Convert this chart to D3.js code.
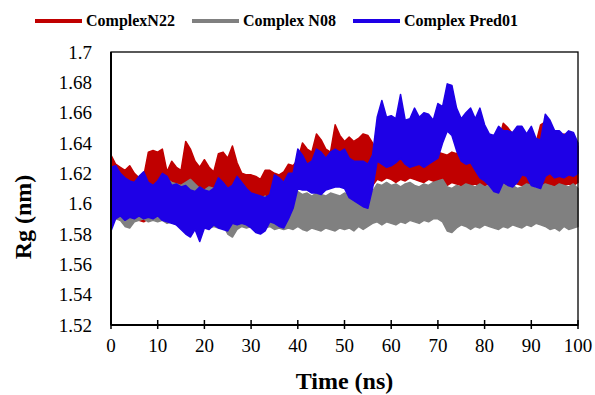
<!DOCTYPE html>
<html>
<head>
<meta charset="utf-8">
<script src="https://cdn.jsdelivr.net/npm/d3@7"></script>
<style>
  body { margin: 0; background: #fff; }
  svg { font-family: "Liberation Serif", "Times New Roman", serif; }
</style>
</head>
<body>
<svg id="chart" width="595" height="395"></svg>
<script>
// sampling: one high / one low reading per ns
var timeNs = d3.range(0, 101);

var xTicks = [0, 10, 20, 30, 40, 50, 60, 70, 80, 90, 100];
var yTicks = [1.52, 1.54, 1.56, 1.58, 1.6, 1.62, 1.64, 1.66, 1.68, 1.7];

var seriesNames = ["ComplexN22", "Complex N08", "Complex Pred01"];

// ComplexN22 (red)
var n22High = [1.632,1.626,1.624,1.622,1.625,1.620,1.617,1.618,1.634,1.635,
  1.634,1.636,1.621,1.628,1.624,1.622,1.641,1.636,1.628,1.624,
  1.629,1.624,1.621,1.633,1.634,1.630,1.638,1.627,1.620,1.619,
  1.619,1.618,1.616,1.622,1.622,1.620,1.619,1.621,1.626,1.625,
  1.629,1.640,1.636,1.634,1.646,1.642,1.636,1.634,1.652,1.645,
  1.641,1.644,1.641,1.643,1.646,1.645,1.640,1.634,1.632,1.635,
  1.633,1.634,1.636,1.632,1.633,1.635,1.632,1.634,1.633,1.631,
  1.634,1.633,1.632,1.634,1.633,1.636,1.638,1.640,1.646,1.638,
  1.642,1.637,1.639,1.641,1.653,1.650,1.646,1.640,1.642,1.639,
  1.641,1.640,1.652,1.654,1.648,1.642,1.640,1.646,1.641,1.640,1.638];
var n22Low = [1.594,1.592,1.589,1.590,1.591,1.590,1.589,1.588,1.590,1.598,
  1.600,1.599,1.601,1.600,1.602,1.600,1.601,1.603,1.600,1.601,
  1.602,1.600,1.601,1.603,1.600,1.602,1.601,1.603,1.600,1.601,
  1.602,1.600,1.601,1.603,1.602,1.601,1.603,1.602,1.604,1.606,
  1.612,1.613,1.612,1.614,1.613,1.612,1.614,1.613,1.612,1.613,
  1.612,1.611,1.610,1.611,1.610,1.611,1.612,1.616,1.615,1.617,
  1.616,1.614,1.616,1.615,1.617,1.616,1.615,1.614,1.616,1.615,
  1.614,1.613,1.612,1.614,1.613,1.612,1.611,1.612,1.613,1.611,
  1.612,1.613,1.612,1.611,1.613,1.612,1.614,1.613,1.612,1.611,
  1.613,1.612,1.611,1.612,1.613,1.611,1.610,1.612,1.613,1.612,1.614];

// Complex N08 (grey)
var n08High = [1.603,1.605,1.606,1.604,1.607,1.606,1.608,1.607,1.609,1.608,
  1.609,1.612,1.616,1.614,1.613,1.612,1.614,1.616,1.613,1.610,
  1.609,1.611,1.610,1.608,1.609,1.610,1.608,1.607,1.608,1.606,
  1.605,1.604,1.603,1.605,1.603,1.602,1.604,1.603,1.604,1.606,
  1.608,1.606,1.607,1.605,1.607,1.606,1.605,1.607,1.606,1.605,
  1.607,1.606,1.605,1.607,1.606,1.605,1.608,1.613,1.612,1.614,
  1.612,1.613,1.611,1.613,1.614,1.612,1.611,1.613,1.612,1.614,
  1.615,1.616,1.611,1.610,1.612,1.611,1.613,1.612,1.611,1.613,
  1.611,1.612,1.610,1.612,1.613,1.611,1.612,1.610,1.611,1.613,
  1.612,1.610,1.611,1.613,1.612,1.611,1.613,1.612,1.611,1.613,1.610];
var n08Low = [1.592,1.590,1.589,1.585,1.584,1.588,1.589,1.590,1.588,1.589,
  1.588,1.589,1.587,1.588,1.586,1.585,1.584,1.585,1.585,1.586,
  1.585,1.584,1.585,1.584,1.586,1.580,1.578,1.583,1.585,1.584,
  1.585,1.584,1.583,1.584,1.585,1.583,1.584,1.583,1.584,1.583,
  1.585,1.583,1.582,1.584,1.583,1.582,1.584,1.583,1.582,1.584,
  1.583,1.584,1.582,1.585,1.583,1.585,1.587,1.588,1.586,1.588,
  1.587,1.586,1.588,1.587,1.589,1.588,1.587,1.589,1.588,1.590,
  1.590,1.588,1.582,1.581,1.584,1.586,1.585,1.583,1.585,1.584,
  1.586,1.585,1.584,1.583,1.585,1.584,1.586,1.585,1.584,1.586,
  1.585,1.587,1.586,1.585,1.583,1.584,1.582,1.585,1.583,1.584,1.585];

// Complex Pred01 (blue)
var pred01High = [1.624,1.625,1.620,1.617,1.615,1.614,1.618,1.621,1.614,1.612,
  1.615,1.620,1.618,1.612,1.613,1.611,1.612,1.609,1.608,1.611,
  1.609,1.608,1.610,1.617,1.614,1.610,1.612,1.618,1.614,1.610,
  1.607,1.606,1.605,1.604,1.606,1.619,1.617,1.614,1.620,1.620,
  1.636,1.632,1.626,1.628,1.636,1.634,1.630,1.634,1.636,1.634,
  1.636,1.630,1.628,1.628,1.628,1.626,1.632,1.657,1.668,1.657,
  1.658,1.656,1.672,1.655,1.656,1.663,1.657,1.660,1.659,1.655,
  1.666,1.664,1.679,1.678,1.663,1.656,1.660,1.663,1.656,1.663,
  1.652,1.646,1.645,1.651,1.648,1.648,1.647,1.651,1.651,1.646,
  1.651,1.643,1.642,1.659,1.655,1.648,1.648,1.645,1.648,1.647,1.640];
var pred01Low = [1.582,1.590,1.592,1.589,1.591,1.590,1.592,1.590,1.591,1.590,
  1.592,1.589,1.588,1.587,1.586,1.583,1.580,1.578,1.583,1.575,
  1.584,1.583,1.586,1.584,1.583,1.582,1.587,1.586,1.587,1.586,
  1.584,1.581,1.580,1.582,1.588,1.587,1.585,1.584,1.590,1.597,
  1.610,1.609,1.609,1.607,1.607,1.606,1.609,1.610,1.611,1.611,
  1.610,1.604,1.602,1.600,1.598,1.597,1.610,1.628,1.626,1.624,
  1.625,1.627,1.630,1.626,1.624,1.625,1.626,1.624,1.626,1.628,
  1.630,1.640,1.648,1.645,1.635,1.628,1.626,1.627,1.622,1.617,
  1.615,1.612,1.608,1.607,1.614,1.612,1.611,1.614,1.619,1.618,
  1.612,1.611,1.610,1.618,1.620,1.617,1.618,1.617,1.619,1.618,1.620];

var colors = ["#c00000", "#808080", "#1e00e6"];

var svg = d3.select("#chart");
var margin = {top: 52, right: 17, bottom: 70, left: 111};
var width = 595 - margin.left - margin.right;
var height = 395 - margin.top - margin.bottom;

var x = d3.scaleLinear().domain([0, 100]).range([margin.left, margin.left + width]);
var y = d3.scaleLinear().domain([1.52, 1.7]).range([margin.top + height, margin.top]);

// the trace fluctuates so fast that it reads as a band between its highs and lows
function band(hi, lo) {
  return timeNs.map(function(t, i) { return {t: t, hi: hi[i], lo: lo[i]}; });
}

var area = d3.area()
  .x(function(d) { return x(d.t); })
  .y0(function(d) { return y(d.lo); })
  .y1(function(d) { return y(d.hi); });

var series = [band(n22High, n22Low), band(n08High, n08Low), band(pred01High, pred01Low)];

svg.selectAll(".series")
  .data(series)
  .enter().append("path")
  .attr("class", "series")
  .attr("d", area)
  .attr("fill", function(d, i) { return colors[i]; })
  .attr("stroke", function(d, i) { return colors[i]; })
  .attr("stroke-width", 1.5)
  .attr("stroke-linejoin", "round");

// plot frame
svg.append("rect")
  .attr("x", margin.left).attr("y", margin.top)
  .attr("width", width).attr("height", height)
  .attr("fill", "none").attr("stroke", "#000").attr("stroke-width", 1.3);

// x axis with crossing ticks
var gx = svg.append("g");
gx.append("line")
  .attr("x1", margin.left).attr("x2", margin.left + width)
  .attr("y1", y(1.52)).attr("y2", y(1.52))
  .attr("stroke", "#000").attr("stroke-width", 2);
gx.selectAll(".xt")
  .data(xTicks)
  .enter().append("line")
  .attr("x1", function(d) { return x(d); }).attr("x2", function(d) { return x(d); })
  .attr("y1", y(1.52) - 5).attr("y2", y(1.52) + 4)
  .attr("stroke", "#000").attr("stroke-width", 1.5);
gx.selectAll(".xl")
  .data(xTicks)
  .enter().append("text")
  .attr("x", function(d) { return x(d); })
  .attr("y", 352)
  .attr("text-anchor", "middle")
  .attr("font-size", "19px")
  .text(function(d) { return d; });

// y axis
svg.append("line")
  .attr("x1", margin.left).attr("x2", margin.left)
  .attr("y1", margin.top).attr("y2", margin.top + height)
  .attr("stroke", "#000").attr("stroke-width", 2);
svg.selectAll(".yl")
  .data(yTicks)
  .enter().append("text")
  .attr("x", 92)
  .attr("y", function(d) { return y(d); })
  .attr("dy", "0.35em")
  .attr("text-anchor", "end")
  .attr("font-size", "19px")
  .text(function(d) { return +d.toFixed(2); });

// axis titles
svg.append("text")
  .attr("x", margin.left + width / 2)
  .attr("y", 389)
  .attr("text-anchor", "middle")
  .attr("font-size", "24px")
  .attr("font-weight", "bold")
  .text("Time (ns)");
svg.append("text")
  .attr("transform", "translate(31,217) rotate(-90)")
  .attr("text-anchor", "middle")
  .attr("font-size", "24px")
  .attr("font-weight", "bold")
  .text("Rg (nm)");

// legend
var legendX = [35, 192, 353];
var leg = svg.selectAll(".leg")
  .data(seriesNames)
  .enter().append("g")
  .attr("transform", function(d, i) { return "translate(" + legendX[i] + ",21)"; });
leg.append("line")
  .attr("x1", 0).attr("x2", 47)
  .attr("stroke", function(d, i) { return colors[i]; })
  .attr("stroke-width", 4);
leg.append("text")
  .attr("x", 51)
  .attr("y", 5)
  .attr("font-size", "16px")
  .attr("font-weight", "bold")
  .text(function(d) { return d; });
</script>
</body>
</html>
